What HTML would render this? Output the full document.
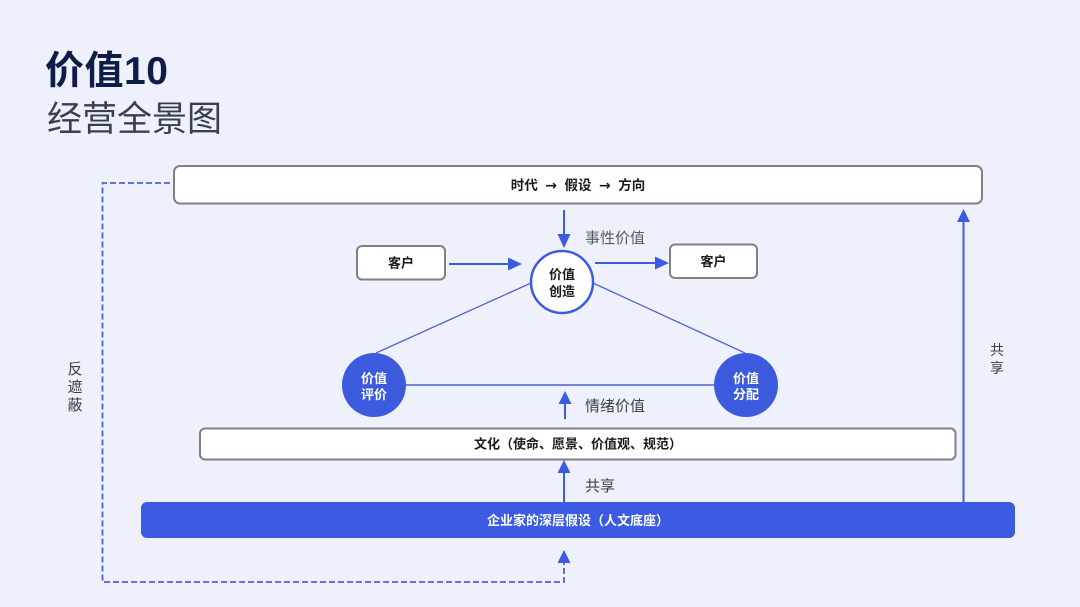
<!DOCTYPE html>
<html><head><meta charset="utf-8"><style>
html,body{margin:0;padding:0;background:#eef1fb;}
body{width:1080px;height:607px;overflow:hidden;position:relative;font-family:"Liberation Sans","Noto Sans CJK SC",sans-serif;}
svg{position:absolute;left:0;top:0;}
text{font-family:"Liberation Sans","Noto Sans CJK SC",sans-serif;}
</style></head><body>
<svg width="1080" height="607" viewBox="0 0 1080 607" xmlns="http://www.w3.org/2000/svg">
<rect x="0" y="0" width="1080" height="607" fill="#eef1fb"/>
<!-- titles -->
<text x="45" y="84" font-size="39" font-weight="bold" fill="#0f1c48" letter-spacing="0.5">价值10</text>
<text x="47" y="131" font-size="35" fill="#36404f">经营全景图</text>

<!-- dashed loop -->
<path d="M170 183 H102.5 V582 H564 V562" fill="none" stroke="#4a62d6" stroke-width="1.8" stroke-dasharray="6,3"/>
<polygon points="564,550 557.5,563 570.5,563" fill="#3b5be3"/>
<text x="75" y="374" font-size="15" fill="#3a3f4a" text-anchor="middle">反</text>
<text x="75" y="392" font-size="15" fill="#3a3f4a" text-anchor="middle">遮</text>
<text x="75" y="410" font-size="15" fill="#3a3f4a" text-anchor="middle">蔽</text>

<!-- top box -->
<rect x="174" y="166" width="808" height="37.5" rx="6" fill="#ffffff" stroke="#808080" stroke-width="2"/>
<text x="578" y="190" font-size="13.5" font-weight="bold" fill="#1a1a1a" text-anchor="middle">时代&#160;&#160;<tspan font-family="DejaVu Sans, sans-serif" font-size="14">→</tspan>&#160;&#160;假设&#160;&#160;<tspan font-family="DejaVu Sans, sans-serif" font-size="14">→</tspan>&#160;&#160;方向</text>

<!-- down arrow to circle -->
<line x1="564" y1="210" x2="564" y2="236" stroke="#3b5be3" stroke-width="2"/>
<polygon points="564,248 557.5,234 570.5,234" fill="#3b5be3"/>
<text x="585" y="243" font-size="15" fill="#555a63">事性价值</text>

<!-- customer boxes -->
<rect x="357" y="246" width="88" height="33.5" rx="5" fill="#ffffff" stroke="#808080" stroke-width="2"/>
<text x="401" y="267.5" font-size="13" font-weight="bold" fill="#1a1a1a" text-anchor="middle">客户</text>
<rect x="670" y="244.5" width="87" height="33.5" rx="5" fill="#ffffff" stroke="#808080" stroke-width="2"/>
<text x="713.5" y="266" font-size="13" font-weight="bold" fill="#1a1a1a" text-anchor="middle">客户</text>

<line x1="449" y1="264" x2="510" y2="264" stroke="#3b5be3" stroke-width="2"/>
<polygon points="522,264 508,257.5 508,270.5" fill="#3b5be3"/>
<line x1="595" y1="263" x2="656" y2="263" stroke="#3b5be3" stroke-width="2"/>
<polygon points="669,263 655,256.5 655,269.5" fill="#3b5be3"/>

<!-- triangle lines -->
<line x1="531" y1="283" x2="376" y2="353" stroke="#4a63d6" stroke-width="1.3"/>
<line x1="593" y1="283" x2="745" y2="353" stroke="#4a63d6" stroke-width="1.3"/>
<line x1="406" y1="385" x2="714" y2="385" stroke="#4a63d6" stroke-width="1.5"/>

<!-- circles -->
<circle cx="562" cy="282" r="31" fill="#ffffff" stroke="#3b5be3" stroke-width="2.5"/>
<text x="562" y="279" font-size="13" font-weight="bold" fill="#1a1a1a" text-anchor="middle">价值</text>
<text x="562" y="296" font-size="13" font-weight="bold" fill="#1a1a1a" text-anchor="middle">创造</text>

<circle cx="374" cy="385" r="32" fill="#3c5ade"/>
<text x="374" y="383" font-size="13" font-weight="bold" fill="#ffffff" text-anchor="middle">价值</text>
<text x="374" y="399" font-size="13" font-weight="bold" fill="#ffffff" text-anchor="middle">评价</text>
<circle cx="746" cy="385" r="32" fill="#3c5ade"/>
<text x="746" y="383" font-size="13" font-weight="bold" fill="#ffffff" text-anchor="middle">价值</text>
<text x="746" y="399" font-size="13" font-weight="bold" fill="#ffffff" text-anchor="middle">分配</text>

<!-- emotion arrow -->
<line x1="565" y1="419" x2="565" y2="402" stroke="#3b5be3" stroke-width="2"/>
<polygon points="565,391 558.5,404 571.5,404" fill="#3b5be3"/>
<text x="585" y="411" font-size="15" fill="#3a3f4a">情绪价值</text>

<!-- culture box -->
<rect x="200" y="428.5" width="755.5" height="31" rx="5" fill="#ffffff" stroke="#808080" stroke-width="2"/>
<text x="578" y="448.5" font-size="13" font-weight="bold" fill="#1a1a1a" text-anchor="middle">文化（使命、愿景、价值观、规范）</text>

<!-- share arrow -->
<line x1="564" y1="502" x2="564" y2="471" stroke="#3b5be3" stroke-width="2"/>
<polygon points="564,460 557.5,473 570.5,473" fill="#3b5be3"/>
<text x="585" y="491" font-size="15" fill="#3a3f4a">共享</text>

<!-- blue bar -->
<rect x="141" y="502" width="874" height="36" rx="6" fill="#3b5be3"/>
<text x="578" y="525" font-size="13" font-weight="bold" fill="#ffffff" text-anchor="middle">企业家的深层假设（人文底座）</text>

<!-- right up arrow -->
<line x1="963.5" y1="502" x2="963.5" y2="220" stroke="#3b5be3" stroke-width="2"/>
<polygon points="963.5,209 957,222 970,222" fill="#3b5be3"/>
<text x="997" y="355" font-size="14" fill="#3a3f4a" text-anchor="middle">共</text>
<text x="997" y="373" font-size="14" fill="#3a3f4a" text-anchor="middle">享</text>
</svg>
</body></html>
